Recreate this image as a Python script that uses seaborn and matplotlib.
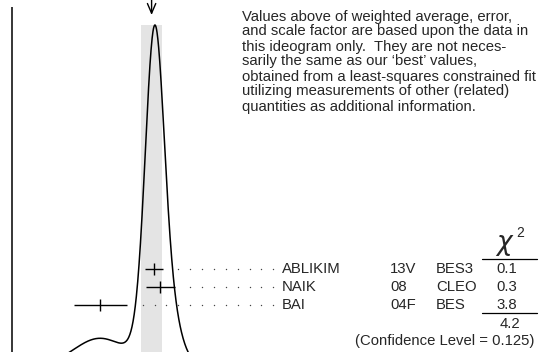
import numpy as np
import pandas as pd
import seaborn as sns
import matplotlib
matplotlib.use("Agg")
import matplotlib.pyplot as plt

# ---------------- data ----------------
authors = ["ABLIKIM", "NAIK", "BAI"]
years = ["13V", "08", "04F"]
experiments = ["BES3", "CLEO", "BES"]
values = [15.43, 16.0, 10.0]
errors = [0.90, 1.45, 2.65]
chi2_labels = ["0.1", "0.3", "3.8"]
chi2_total = "4.2"
conf_level = "(Confidence Level = 0.125)"
note_lines = [
    "Values above of weighted average, error,",
    "and scale factor are based upon the data in",
    "this ideogram only.  They are not neces-",
    "sarily the same as our \u2018best\u2019 values,",
    "obtained from a least-squares constrained fit",
    "utilizing measurements of other (related)",
    "quantities as additional information.",
]

# ---------------- style ----------------
sns.set_style("white")
plt.rcParams["font.family"] = ["Liberation Sans", "DejaVu Sans"]

W, H = 544, 352
fig = plt.figure(figsize=(W / 100, H / 100), dpi=100)
ax = fig.add_axes([0, 0, 1, 1])
ax.axis("off")

v = np.array(values)
e = np.array(errors)
w = 1.0 / e**2
mean = np.sum(w * v) / np.sum(w)
err = 1.0 / np.sqrt(np.sum(w))
chi2 = np.sum(w * (v - mean) ** 2)
scale = np.sqrt(chi2 / (len(v) - 1))
band = err * scale

# ideogram curve
xs = np.linspace(0, W / 10, 2000)
f = np.zeros_like(xs)
for vi, ei, wi in zip(v, e, w):
    f += wi * np.exp(-0.5 * ((xs - vi) / ei) ** 2)
f = f / f.max()

ylo, yhi = 0.0439, 1.0731
ax.set_xlim(0, W / 10)
ax.set_ylim(ylo, yhi)


def ypx(p):
    return yhi - p / H * (yhi - ylo)


# shaded band
ax.fill_betweenx([ylo, 1.0], mean - band, mean + band, color="#e4e4e4", lw=0, zorder=0)

curve = pd.DataFrame({"x": xs, "y": f})
sns.lineplot(data=curve, x="x", y="y", ax=ax, color="black", lw=1.1, zorder=3)

# measurements
rows = np.array([ypx(p) for p in (269, 287, 305)])
ax.hlines(rows, v - e, v + e, color="black", lw=1.0, zorder=4)
meas = pd.DataFrame({"x": v, "y": rows})
sns.scatterplot(data=meas, x="x", y="y", ax=ax, marker="|", s=75, linewidth=1.0,
                color="black", zorder=5)

# dotted leaders on common grid
x_end = 27.33
step = 1.1875
for vi, ei, r in zip(v, e, rows):
    k = np.arange(0, 40)
    dx = x_end - k * step
    dx = dx[dx >= vi + ei + 1.2]
    ax.plot(dx, np.full_like(dx, r), linestyle="none", marker="o", ms=1.0,
            mew=0, color="#444444")

# vertical axis line
ax.plot([12.3 / W, 12.3 / W], [0, 1 - 7 / H], transform=ax.transAxes,
        color="black", lw=1.1, solid_capstyle="butt")

# arrow at the weighted average
ax.annotate("", xy=(mean, ypx(15)), xytext=(mean, ypx(0)),
            arrowprops=dict(arrowstyle="->,head_length=0.7,head_width=0.3",
                            lw=1.0, color="black", shrinkA=0, shrinkB=0))

# ---------------- text overlay ----------------
tx = fig.add_axes([0, 0, 1, 1])
tx.set_xlim(0, W)
tx.set_ylim(H, 0)
tx.axis("off")
tx.patch.set_alpha(0)

fs = 10.7
for i, line in enumerate(note_lines):
    tx.text(242, 16.5 + 15 * i, line, fontsize=fs, ha="left", va="center")

for i, r in enumerate((269, 287, 305)):
    tx.text(282, r, authors[i], fontsize=fs, ha="left", va="center")
    tx.text(390, r, years[i], fontsize=fs, ha="left", va="center")
    tx.text(436, r, experiments[i], fontsize=fs, ha="left", va="center")
    tx.text(506.5, r, chi2_labels[i], fontsize=fs, ha="center", va="center")

tx.text(505, 246, r"$\chi$", fontsize=19, ha="center", va="center")
tx.text(520.5, 233, "2", fontsize=10, ha="center", va="center")
tx.plot([482, 537], [258.5, 258.5], color="black", lw=0.9)
tx.plot([482, 537], [313, 313], color="black", lw=0.9)
tx.text(510, 323.5, chi2_total, fontsize=fs, ha="center", va="center")
tx.text(445, 341.5, conf_level, fontsize=fs, ha="center", va="center")

fig.savefig("out.png", dpi=100)
